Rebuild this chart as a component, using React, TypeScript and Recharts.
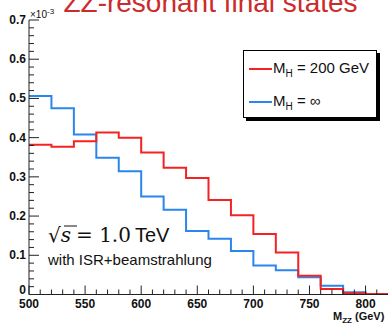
import React from 'react';
import { LineChart, Line, XAxis, YAxis, Legend } from 'recharts';

// Bin lower edges in GeV (20 GeV bins), plus the closing edge at 820
const massEdges = [500, 520, 540, 560, 580, 600, 620, 640, 660, 680, 700, 720, 740, 760, 780, 800, 820];

// dσ/dM_ZZ per bin, in units of 10^-3
const higgs200 = [0.382, 0.377, 0.391, 0.413, 0.400, 0.362, 0.323, 0.297, 0.241, 0.202, 0.154, 0.107, 0.048, 0.014, 0.003, 0.001];
const noHiggs = [0.506, 0.475, 0.408, 0.349, 0.314, 0.250, 0.216, 0.162, 0.142, 0.111, 0.074, 0.062, 0.044, 0.022, 0.006, 0.0];

const xTicks = [500, 510, 520, 530, 540, 550, 560, 570, 580, 590, 600, 610, 620, 630, 640, 650, 660, 670, 680, 690, 700, 710, 720, 730, 740, 750, 760, 770, 780, 790, 800, 810];
const xLabels = [500, 550, 600, 650, 700, 750, 800];
const yTicks = [0, 0.02, 0.04, 0.06, 0.08, 0.1, 0.12, 0.14, 0.16, 0.18, 0.2, 0.22, 0.24, 0.26, 0.28, 0.3, 0.32, 0.34, 0.36, 0.38, 0.4, 0.42, 0.44, 0.46, 0.48, 0.5, 0.52, 0.54, 0.56, 0.58, 0.6, 0.62, 0.64, 0.66, 0.68, 0.7];
const yLabels = ['0', '0.1', '0.2', '0.3', '0.4', '0.5', '0.6', '0.7'];

const RED = '#f52222';
const BLUE = '#2a86ee';
const FONT = '"Liberation Sans", Arial, Helvetica, sans-serif';

// Step histogram: the last edge repeats the final bin value
const rows = massEdges.map((m, i) => ({
  m,
  h200: higgs200[Math.min(i, higgs200.length - 1)],
  inf: noHiggs[Math.min(i, noHiggs.length - 1)],
}));

const XTick = (props: any) => {
  const { x, y, payload } = props;
  const major = xLabels.includes(payload.value);
  return (
    <g>
      <line x1={x} x2={x} y1={y} y2={y - (major ? 9 : 5)} stroke="#222" strokeWidth={1} />
      {major && (
        <text x={x} y={y + 13} textAnchor="middle" fontFamily={FONT} fontWeight="bold" fontSize={12} fill="#111">
          {payload.value}
        </text>
      )}
    </g>
  );
};

const YTick = (props: any) => {
  const { x, y, payload } = props;
  const v = Math.round(payload.value * 100) / 100;
  const label = String(v);
  const major = yLabels.includes(label);
  return (
    <g>
      <line x1={x} x2={x + (major ? 10 : 5)} y1={y} y2={y} stroke="#222" strokeWidth={1} />
      {major && (
        <text x={x - 3} y={label === '0' ? y - 1 : y + 4} textAnchor="end" fontFamily={FONT} fontWeight="bold" fontSize={12} fill="#111">
          {label}
        </text>
      )}
    </g>
  );
};

const legendItems = [
  { color: RED, text: '= 200 GeV' },
  { color: BLUE, text: '= \u221E' },
];

const LegendBox = () => (
  <div
    style={{
      width: 132,
      height: 66,
      border: '1px solid #000',
      background: '#fff',
      boxShadow: '3px 3px 0 #000',
      fontFamily: FONT,
      fontSize: 15,
      color: '#111',
      boxSizing: 'content-box',
    }}
  >
    {legendItems.map((it, i) => (
      <div key={i} style={{ position: 'relative', height: 33 }}>
        <div style={{ position: 'absolute', left: 5, top: i === 0 ? 17 : 17, width: 23, height: 1.6, background: it.color }} />
        <div style={{ position: 'absolute', left: 29, top: i === 0 ? 8 : 8, whiteSpace: 'nowrap', lineHeight: '18px' }}>
          M<sub style={{ fontSize: 10, verticalAlign: -4 }}>H</sub> {it.text}
        </div>
      </div>
    ))}
  </div>
);

export default function App() {
  return (
    <div style={{ position: 'absolute', left: 0, top: 0, width: 390, height: 324, background: '#fff', overflow: 'hidden' }}>
      <LineChart width={390} height={324} data={rows} margin={{ top: 20, right: 2, left: 0, bottom: 0 }}>
        <XAxis
          dataKey="m"
          type="number"
          domain={[500, 820]}
          ticks={xTicks}
          interval={0}
          tick={<XTick />}
          tickLine={false}
          tickSize={0}
          tickMargin={0}
          height={29.5}
          axisLine={{ stroke: '#222' }}
          allowDataOverflow
        />
        <XAxis xAxisId="frameTop" orientation="top" dataKey="m" type="number" domain={[500, 820]} tick={false} tickLine={false} height={0} axisLine={{ stroke: '#333' }} />
        <YAxis
          type="number"
          domain={[0, 0.7]}
          ticks={yTicks}
          interval={0}
          tick={<YTick />}
          tickLine={false}
          tickSize={0}
          tickMargin={0}
          width={29}
          axisLine={{ stroke: '#222' }}
          allowDataOverflow
        />
        <YAxis yAxisId="frameRight" orientation="right" domain={[0, 0.7]} tick={false} tickLine={false} width={0} axisLine={{ stroke: '#333' }} />
        <Legend
          layout="vertical"
          align="center"
          verticalAlign="middle"
          content={() => <LegendBox />}
          wrapperStyle={{ left: 243, top: 50, width: 136, height: 72 }}
        />
        <Line type="stepAfter" dataKey="inf" stroke={BLUE} strokeWidth={2} dot={false} isAnimationActive={false} />
        <Line type="stepAfter" dataKey="h200" stroke={RED} strokeWidth={2} dot={false} isAnimationActive={false} />
      </LineChart>

      <svg width={390} height={324} style={{ position: 'absolute', left: 0, top: 0, pointerEvents: 'none' }}>
        <text x={210.5} y={12} textAnchor="middle" fontFamily={FONT} fontSize={28} fill="#cc2b2b">
          ZZ-resonant final states
        </text>
        <text x={30} y={18} fontFamily={FONT} fontSize={10} fill="#111">
          ×10<tspan dy={-4} fontSize={8}>-3</tspan>
        </text>
        <text x={48} y={242} fontFamily='"DejaVu Serif", "Liberation Serif", serif' fontSize={20} fill="#111">
          √<tspan fontStyle="italic">s</tspan>
          <tspan dx={5}>= 1.0</tspan>
          <tspan dx={4} fontFamily={FONT}>TeV</tspan>
        </text>
        <line x1={64} x2={77} y1={226} y2={226} stroke="#111" strokeWidth={1} />
        <text x={48} y={265} fontFamily={FONT} fontSize={15} fill="#111">
          with ISR+beamstrahlung
        </text>
        <text x={333} y={320} fontFamily={FONT} fontWeight="bold" fontSize={11} fill="#111">
          M<tspan fontSize={8} dy={3}>ZZ</tspan>
          <tspan dy={-3}> (GeV)</tspan>
        </text>
      </svg>
    </div>
  );
}
